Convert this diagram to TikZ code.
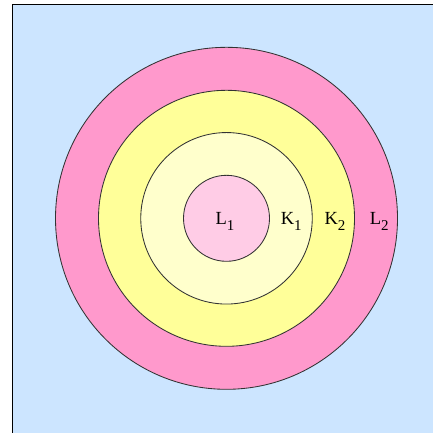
\documentclass[tikz,border=0pt]{standalone}
\usepackage{fontspec}
\setmainfont{Liberation Serif}
\definecolor{bgblue}{HTML}{CCE5FF}
\definecolor{pinkout}{HTML}{FF99CC}
\definecolor{yellowmid}{HTML}{FFFF99}
\definecolor{yellowin}{HTML}{FFFFCC}
\definecolor{pinkin}{HTML}{FFCCE6}
\newcommand\lsub[1]{\raisebox{-0.33em}{\fontsize{15}{15}\selectfont #1}}
\begin{document}
\begin{tikzpicture}[x=1pt,y=-1pt,
  ring/.style={circle,draw=black!80,line width=0.85pt,inner sep=0pt},
  lbl/.style={font=\fontsize{18.5}{18.5}\selectfont,inner sep=0pt,anchor=base}]
\useasboundingbox (0,0) rectangle (433,432);
\begin{scope}
\clip (0,0) rectangle (433,432);
\fill[bgblue] (12.5,4.5) rectangle (440,440);
\draw[black,line width=1.2pt] (12.5,440) -- (12.5,4.5) -- (440,4.5);
\end{scope}
\node[ring,fill=pinkout,minimum size=342pt] (ringL2) at (226.5,218.3) {};
\node[ring,fill=yellowmid,minimum size=256pt] (ringK2) at (226.5,218.3) {};
\node[ring,fill=yellowin,minimum size=171.5pt] (ringK1) at (226.5,218.3) {};
\node[ring,fill=pinkin,minimum size=86pt] (ringL1) at (226.5,218.3) {};
\node[lbl] (tL1) at (225,224) {L\lsub{1}};
\node[lbl] (tK1) at (291.3,224) {K\lsub{1}};
\node[lbl] (tK2) at (335,224) {K\lsub{2}};
\node[lbl] (tL2) at (379.2,224) {L\lsub{2}};
\end{tikzpicture}
\end{document}
